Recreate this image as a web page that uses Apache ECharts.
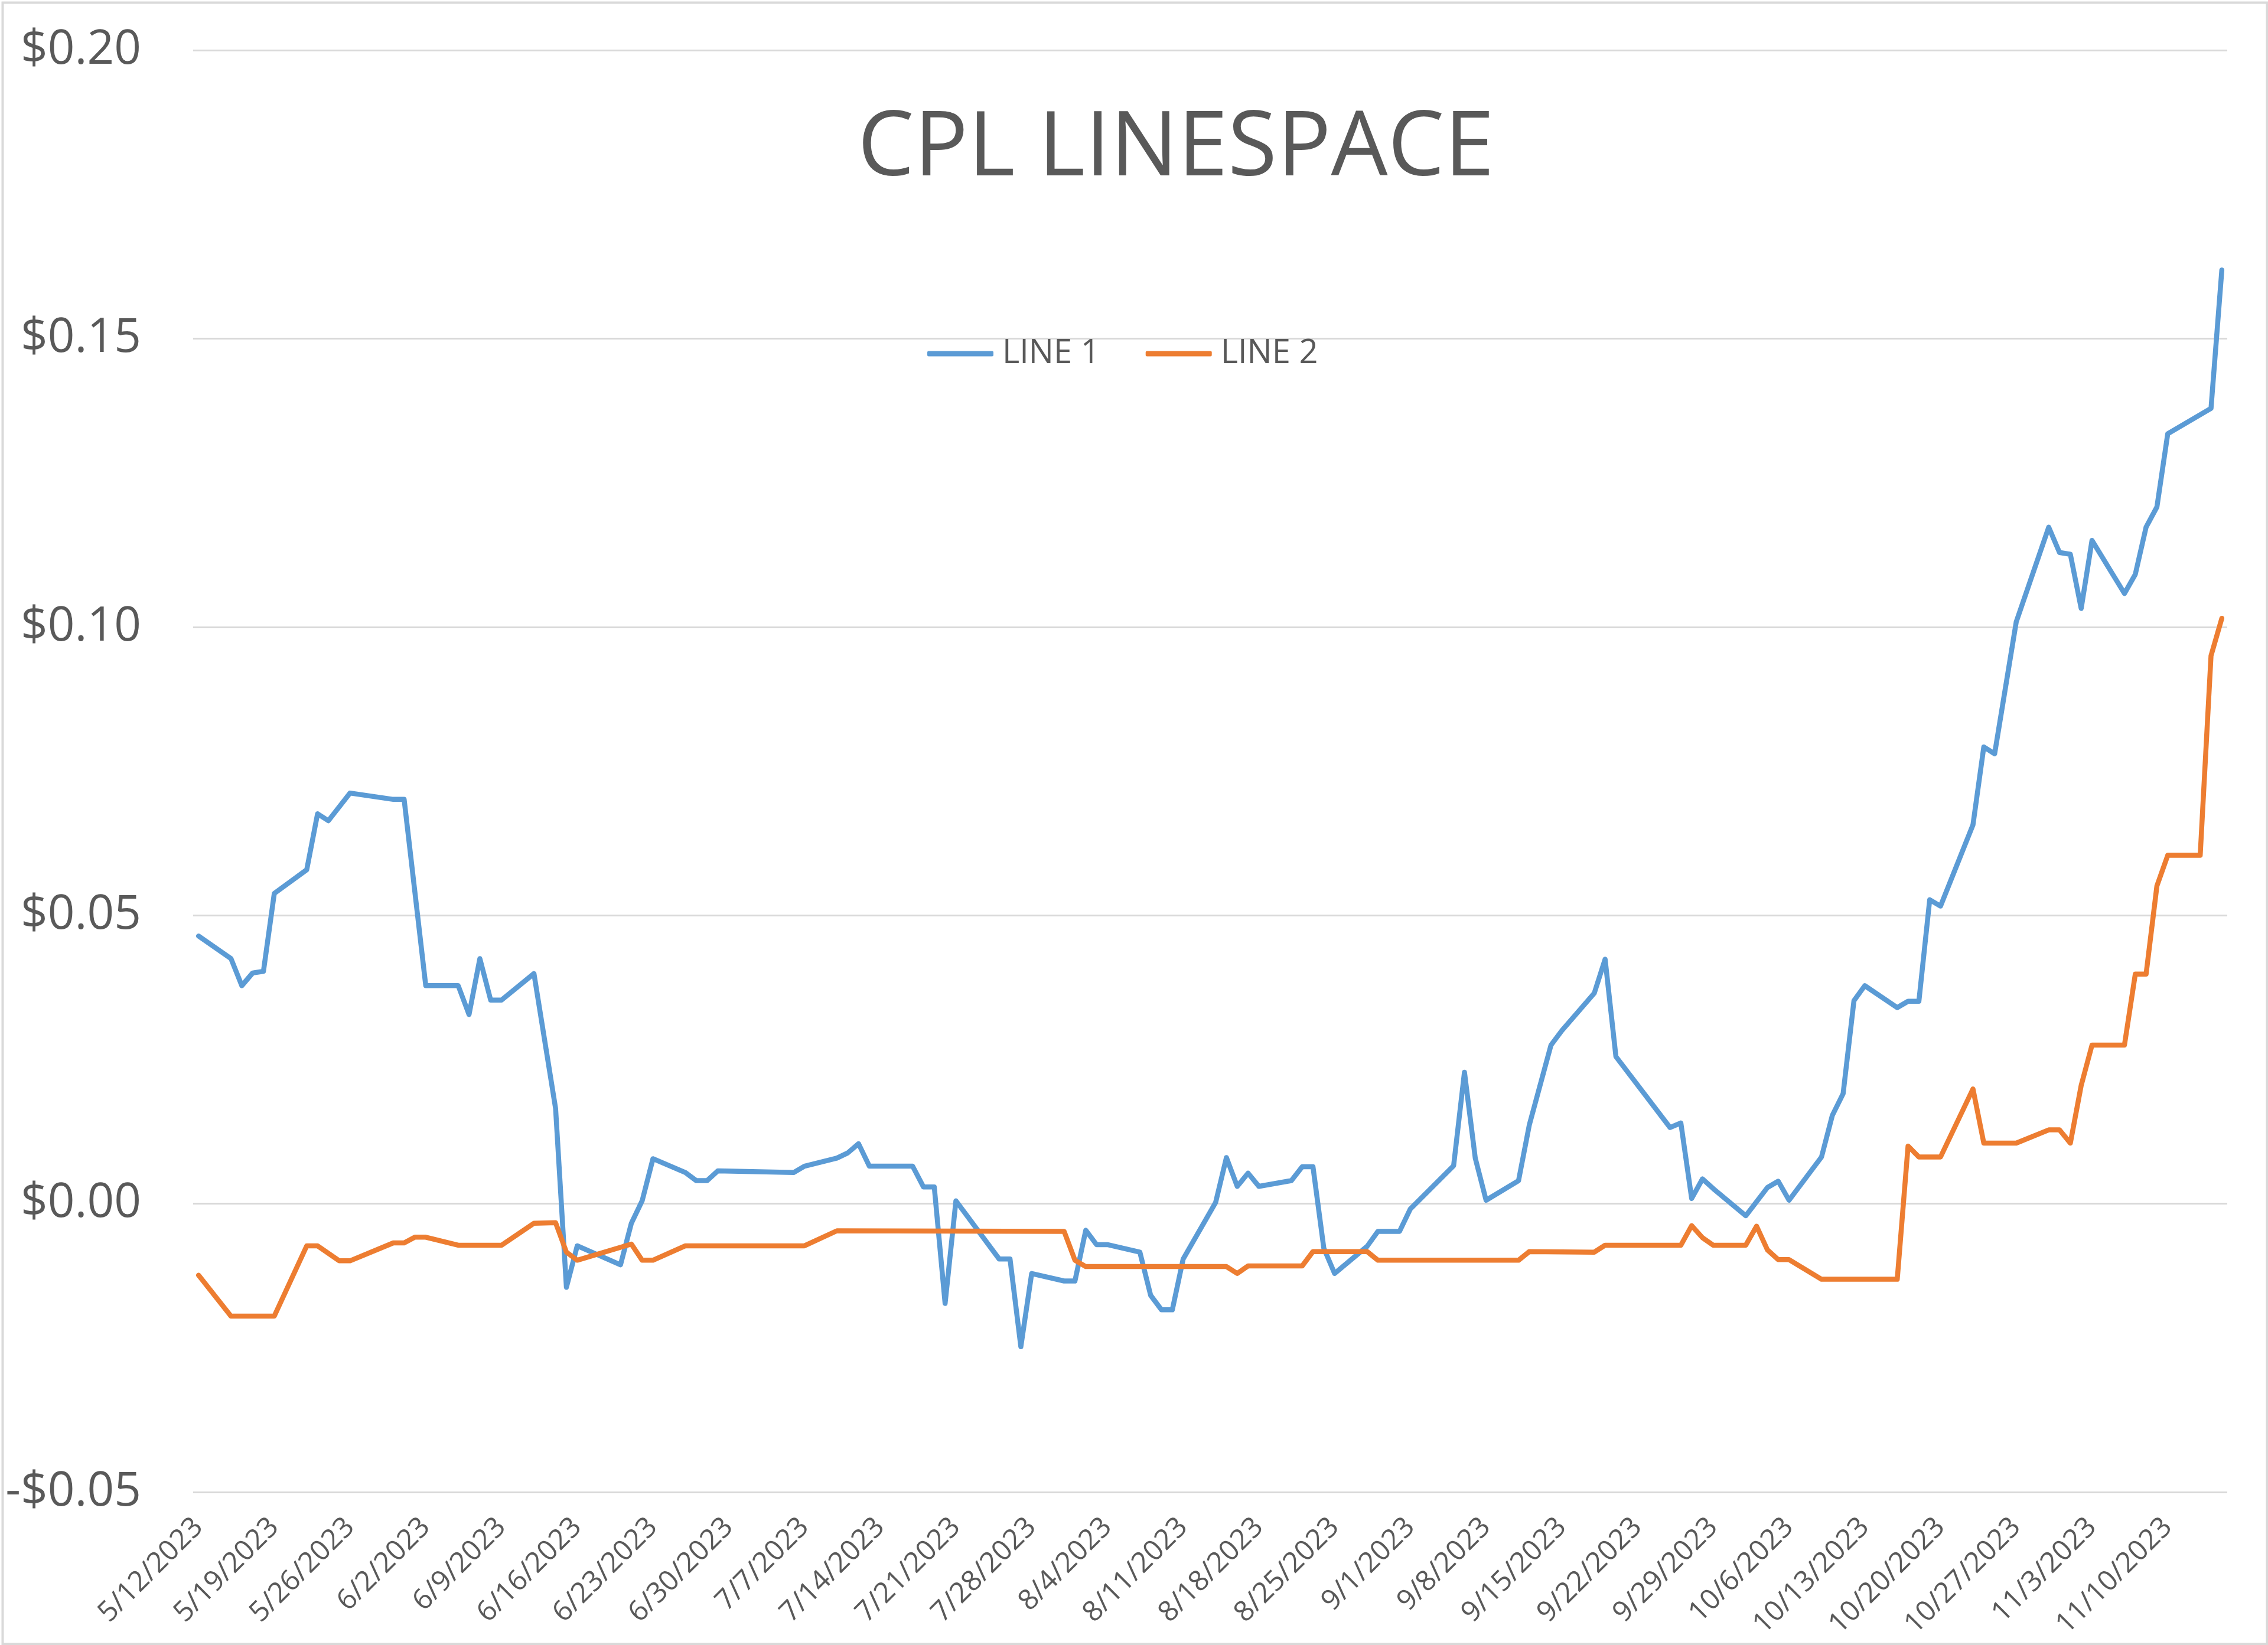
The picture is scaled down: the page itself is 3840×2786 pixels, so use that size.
<!DOCTYPE html>
<html>
<head>
<meta charset="utf-8">
<title>CPL LINESPACE</title>
<script src="https://cdn.jsdelivr.net/npm/echarts@6.0.0/dist/echarts.min.js"></script>
<style>
  html, body { margin: 0; padding: 0; background: #fff; }
  #chart { width: 3840px; height: 2786px; }
</style>
</head>
<body>
<div id="chart"></div>
<script>
// weekly labels shown under the axis
const tickLabels = [
  "5/12/2023", "5/19/2023", "5/26/2023", "6/2/2023", "6/9/2023", "6/16/2023",
  "6/23/2023", "6/30/2023", "7/7/2023", "7/14/2023", "7/21/2023", "7/28/2023",
  "8/4/2023", "8/11/2023", "8/18/2023", "8/25/2023", "9/1/2023", "9/8/2023",
  "9/15/2023", "9/22/2023", "9/29/2023", "10/6/2023", "10/13/2023", "10/20/2023",
  "10/27/2023", "11/3/2023", "11/10/2023"
];

const line1Dates = [
  "5/12/2023", "5/15/2023", "5/16/2023", "5/17/2023", "5/18/2023", "5/19/2023",
  "5/22/2023", "5/23/2023", "5/24/2023", "5/26/2023", "5/30/2023", "5/31/2023",
  "6/2/2023", "6/5/2023", "6/6/2023", "6/7/2023", "6/8/2023", "6/9/2023",
  "6/12/2023", "6/14/2023", "6/15/2023", "6/16/2023", "6/20/2023", "6/21/2023",
  "6/22/2023", "6/23/2023", "6/26/2023", "6/27/2023", "6/28/2023", "6/29/2023",
  "7/6/2023", "7/7/2023", "7/10/2023", "7/11/2023", "7/12/2023", "7/13/2023",
  "7/17/2023", "7/18/2023", "7/19/2023", "7/20/2023", "7/21/2023", "7/25/2023",
  "7/26/2023", "7/27/2023", "7/28/2023", "7/31/2023", "8/1/2023", "8/2/2023",
  "8/3/2023", "8/4/2023", "8/7/2023", "8/8/2023", "8/9/2023", "8/10/2023",
  "8/11/2023", "8/14/2023", "8/15/2023", "8/16/2023", "8/17/2023", "8/18/2023",
  "8/21/2023", "8/22/2023", "8/23/2023", "8/24/2023", "8/25/2023", "8/28/2023",
  "8/29/2023", "8/31/2023", "9/1/2023", "9/5/2023", "9/6/2023", "9/7/2023",
  "9/8/2023", "9/11/2023", "9/12/2023", "9/14/2023", "9/15/2023", "9/18/2023",
  "9/19/2023", "9/20/2023", "9/25/2023", "9/26/2023", "9/27/2023", "9/28/2023",
  "9/29/2023", "10/2/2023", "10/4/2023", "10/5/2023", "10/6/2023", "10/9/2023",
  "10/10/2023", "10/11/2023", "10/12/2023", "10/13/2023", "10/16/2023", "10/17/2023",
  "10/18/2023", "10/19/2023", "10/20/2023", "10/23/2023", "10/24/2023", "10/25/2023",
  "10/27/2023", "10/30/2023", "10/31/2023", "11/1/2023", "11/2/2023", "11/3/2023",
  "11/6/2023", "11/7/2023", "11/8/2023", "11/9/2023", "11/10/2023", "11/14/2023",
  "11/15/2023"
];
const line1Values = [
  0.0464, 0.0425, 0.0378, 0.0400, 0.0403, 0.0538,
  0.0579, 0.0676, 0.0664, 0.0712, 0.0701, 0.0701,
  0.0378, 0.0378, 0.0328, 0.0425, 0.0353, 0.0353,
  0.0399, 0.0165, -0.0145, -0.0073, -0.0106, -0.0034,
  0.0005, 0.0078, 0.0054, 0.0040, 0.0040, 0.0057,
  0.0054, 0.0065, 0.0079, 0.0088, 0.0104, 0.0065,
  0.0065, 0.0029, 0.0029, -0.0173, 0.0005, -0.0096,
  -0.0096, -0.0248, -0.0121, -0.0134, -0.0134, -0.0046,
  -0.0071, -0.0071, -0.0084, -0.0159, -0.0184, -0.0184,
  -0.0096, 0.0002, 0.0080, 0.0030, 0.0053, 0.0030,
  0.0040, 0.0064, 0.0064, -0.0077, -0.0121, -0.0074,
  -0.0048, -0.0048, -0.0009, 0.0066, 0.0228, 0.0079,
  0.0006, 0.0040, 0.0137, 0.0275, 0.0300, 0.0365,
  0.0424, 0.0255, 0.0132, 0.0140, 0.0009, 0.0043,
  0.0026, -0.0021, 0.0028, 0.0039, 0.0006, 0.0081,
  0.0153, 0.0191, 0.0352, 0.0378, 0.0340, 0.0351,
  0.0351, 0.0527, 0.0516, 0.0657, 0.0792, 0.0780,
  0.1009, 0.1173, 0.1129, 0.1126, 0.1032, 0.1150,
  0.1058, 0.1091, 0.1173, 0.1208, 0.1335, 0.1379,
  0.1619
];

const line2Dates = [
  "5/12/2023", "5/15/2023", "5/19/2023", "5/22/2023", "5/23/2023", "5/25/2023",
  "5/26/2023", "5/30/2023", "5/31/2023", "6/1/2023", "6/2/2023", "6/5/2023",
  "6/9/2023", "6/12/2023", "6/14/2023", "6/15/2023", "6/16/2023", "6/21/2023",
  "6/22/2023", "6/23/2023", "6/26/2023", "7/7/2023", "7/10/2023", "7/31/2023",
  "8/1/2023", "8/2/2023", "8/15/2023", "8/16/2023", "8/17/2023", "8/22/2023",
  "8/23/2023", "8/28/2023", "8/29/2023", "9/11/2023", "9/12/2023", "9/18/2023",
  "9/19/2023", "9/26/2023", "9/27/2023", "9/28/2023", "9/29/2023", "10/2/2023",
  "10/3/2023", "10/4/2023", "10/5/2023", "10/6/2023", "10/9/2023", "10/16/2023",
  "10/17/2023", "10/18/2023", "10/20/2023", "10/23/2023", "10/24/2023", "10/27/2023",
  "10/30/2023", "10/31/2023", "11/1/2023", "11/2/2023", "11/3/2023", "11/6/2023",
  "11/7/2023", "11/8/2023", "11/9/2023", "11/10/2023", "11/13/2023", "11/14/2023",
  "11/15/2023"
];
const line2Values = [
  -0.0124, -0.0195, -0.0195, -0.0073, -0.0073, -0.0099,
  -0.0099, -0.0068, -0.0068, -0.0058, -0.0058, -0.0072,
  -0.0072, -0.0034, -0.0033, -0.0084, -0.0098, -0.0070,
  -0.0098, -0.0098, -0.0073, -0.0073, -0.0047, -0.0048,
  -0.0098, -0.0109, -0.0109, -0.0121, -0.0108, -0.0108,
  -0.0083, -0.0083, -0.0098, -0.0098, -0.0083, -0.0084,
  -0.0072, -0.0072, -0.0038, -0.0059, -0.0072, -0.0072,
  -0.0039, -0.0080, -0.0097, -0.0097, -0.0131, -0.0131,
  0.0100, 0.0081, 0.0081, 0.0199, 0.0105, 0.0105,
  0.0128, 0.0128, 0.0105, 0.0205, 0.0275, 0.0275,
  0.0398, 0.0398, 0.0551, 0.0604, 0.0604, 0.0950,
  0.1015
];

// every calendar day on the axis (date axis, one slot per day)
const allDays = [];
for (let d = new Date(2023, 4, 12); d <= new Date(2023, 10, 15); d.setDate(d.getDate() + 1)) {
  allDays.push((d.getMonth() + 1) + "/" + d.getDate() + "/" + d.getFullYear());
}

const pair = (dates, values) => dates.map((dt, i) => [dt, values[i]]);

const FONT = "'Open Sans', 'Noto Sans', sans-serif";
const TEXT = "#595959";
const BLUE = "#5B9BD5";
const ORANGE = "#ED7D31";

const chart = echarts.init(document.getElementById("chart"), null, { renderer: "canvas" });

chart.setOption({
  animation: false,
  backgroundColor: "#ffffff",
  title: {
    text: "CPL LINESPACE",
    left: 1986,
    top: 173,
    textAlign: "center",
    textStyle: { fontFamily: FONT, fontSize: 152, fontWeight: "normal", color: TEXT }
  },
  legend: {
    data: [
      { name: "LINE 1", icon: "roundRect" },
      { name: "LINE 2", icon: "roundRect" }
    ],
    left: 1565,
    top: 566,
    itemWidth: 112,
    itemHeight: 9,
    itemGap: 78,
    textStyle: { fontFamily: FONT, fontSize: 56, color: TEXT, padding: [0, 0, 0, 10] }
  },
  grid: {
    left: 327,
    right: 69,
    top: 85,
    bottom: 259
  },
  xAxis: {
    type: "category",
    data: allDays,
    boundaryGap: true,
    axisLine: { show: false },
    axisTick: { show: false },
    splitLine: { show: false },
    axisLabel: {
      interval: (idx, val) => tickLabels.includes(val),
      rotate: 45,
      margin: 52,
      fontFamily: FONT,
      fontSize: 48,
      color: TEXT
    }
  },
  yAxis: {
    type: "value",
    min: -0.05,
    max: 0.2,
    interval: 0.05,
    axisLine: { show: false },
    axisTick: { show: false },
    splitLine: { lineStyle: { color: "#D9D9D9", width: 3 } },
    axisLabel: {
      margin: 88,
      fontFamily: FONT,
      fontSize: 80,
      color: TEXT,
      formatter: v => (v < 0 ? "-$" : "$") + Math.abs(v).toFixed(2)
    }
  },
  series: [
    {
      name: "LINE 1",
      type: "line",
      data: pair(line1Dates, line1Values),
      symbol: "none",
      itemStyle: { color: BLUE },
      lineStyle: { width: 8.5, color: BLUE, cap: "round", join: "round" }
    },
    {
      name: "LINE 2",
      type: "line",
      data: pair(line2Dates, line2Values),
      symbol: "none",
      itemStyle: { color: ORANGE },
      lineStyle: { width: 8.5, color: ORANGE, cap: "round", join: "round" }
    }
  ],
  graphic: [
    {
      type: "rect",
      left: 2,
      top: 2,
      shape: { width: 3834, height: 2780 },
      style: { fill: null, stroke: "#D9D9D9", lineWidth: 4 },
      silent: true
    }
  ]
});
</script>
</body>
</html>
